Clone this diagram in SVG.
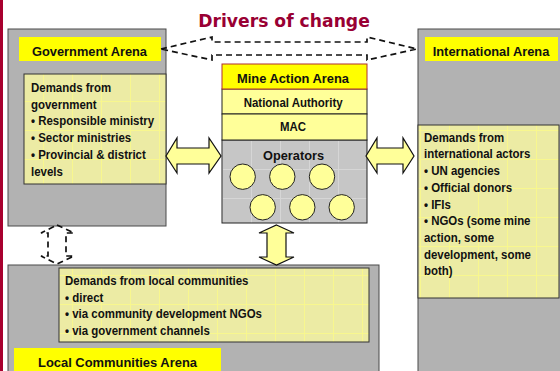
<svg xmlns="http://www.w3.org/2000/svg" width="560" height="371" viewBox="0 0 560 371">
<style>
  .arena{fill:#B2B2B2;stroke:#4a4a4a;stroke-width:1}
  .lab{fill:#FFFF00}
  .dem{fill:url(#ytex);stroke:#333;stroke-width:1}
  .lt{font-family:"Liberation Sans",Arial,sans-serif;font-weight:bold;font-size:13.3px;fill:#111}
  .bt{font-family:"Liberation Sans",Arial,sans-serif;font-weight:bold;font-size:12.2px;fill:#111}
  .circ{fill:#FFFF99;stroke:#222;stroke-width:1}
  .arr{fill:#FFFF99;stroke:#111;stroke-width:1.2;stroke-linejoin:miter}
  .dash{fill:none;stroke:#111;stroke-width:1.7;stroke-dasharray:6 4}
</style>
<defs>
  <pattern id="ytex" patternUnits="userSpaceOnUse" width="29" height="29">
    <rect width="29" height="29" fill="#ECEBA4"/>
    <path d="M14.5 0V29M0 14.5H29" stroke="#F8F78E" stroke-width="1"/>
  </pattern>
  <pattern id="gtex" patternUnits="userSpaceOnUse" width="29" height="29" x="222" y="140">
    <rect width="29" height="29" fill="#C6C6C6"/>
    <path d="M0.5 0V29M0 0.5H29" stroke="#D6D6D6" stroke-width="1"/>
  </pattern>
</defs>
<rect x="0" y="0" width="560" height="371" fill="#FFFFFF"/>
<rect x="0" y="0" width="3" height="371" fill="#A8002E"/>
<g id="title">
  <text x="284" y="27" text-anchor="middle" font-family="'DejaVu Sans',Verdana,sans-serif" font-weight="bold" font-size="17.2px" fill="#990033">Drivers of change</text>
</g>
<g id="local-arena">
  <rect class="arena" x="8" y="265" width="371" height="112"/>
  <rect class="dem" x="59" y="268" width="310" height="74"/>
  <text class="bt" x="65" y="285" textLength="183.4" lengthAdjust="spacingAndGlyphs">Demands from local communities</text>
  <text class="bt" x="65" y="301.7" textLength="38.4" lengthAdjust="spacingAndGlyphs">• direct</text>
  <text class="bt" x="65" y="318.4" textLength="197" lengthAdjust="spacingAndGlyphs">• via community development NGOs</text>
  <text class="bt" x="65" y="335.1" textLength="144.8" lengthAdjust="spacingAndGlyphs">• via government channels</text>
  <rect class="lab" x="14" y="348" width="207" height="30"/>
  <text class="lt" x="38" y="366.7" textLength="159" lengthAdjust="spacingAndGlyphs">Local Communities Arena</text>
</g>
<g id="government-arena">
  <rect class="arena" x="8" y="29" width="158" height="197"/>
  <rect class="lab" x="19" y="37" width="142" height="24"/>
  <text class="lt" x="32" y="55.5" textLength="115" lengthAdjust="spacingAndGlyphs">Government Arena</text>
  <rect class="dem" x="24" y="74" width="142" height="110"/>
  <text class="bt" x="31" y="92" textLength="80.2" lengthAdjust="spacingAndGlyphs">Demands from</text>
  <text class="bt" x="31" y="108.7" textLength="65.6" lengthAdjust="spacingAndGlyphs">government</text>
  <text class="bt" x="31" y="125.4" textLength="123.1" lengthAdjust="spacingAndGlyphs">• Responsible ministry</text>
  <text class="bt" x="31" y="142.1" textLength="100.2" lengthAdjust="spacingAndGlyphs">• Sector ministries</text>
  <text class="bt" x="31" y="158.8" textLength="114.8" lengthAdjust="spacingAndGlyphs">• Provincial &amp; district</text>
  <text class="bt" x="31" y="175.5" textLength="31.9" lengthAdjust="spacingAndGlyphs">levels</text>
</g>
<g id="international-arena">
  <rect class="arena" x="418" y="29" width="150" height="350"/>
  <rect class="lab" x="425" y="37" width="133" height="24"/>
  <text class="lt" x="432.7" y="55.5" textLength="116.7" lengthAdjust="spacingAndGlyphs">International Arena</text>
  <rect class="dem" x="418" y="125" width="141" height="173"/>
  <text class="bt" x="424" y="141.7" textLength="80.2" lengthAdjust="spacingAndGlyphs">Demands from</text>
  <text class="bt" x="424" y="158.4" textLength="106.3" lengthAdjust="spacingAndGlyphs">international actors</text>
  <text class="bt" x="424" y="175.1" textLength="76" lengthAdjust="spacingAndGlyphs">• UN agencies</text>
  <text class="bt" x="424" y="191.8" textLength="88.1" lengthAdjust="spacingAndGlyphs">• Official donors</text>
  <text class="bt" x="424" y="208.5" textLength="26.9" lengthAdjust="spacingAndGlyphs">• IFIs</text>
  <text class="bt" x="424" y="225.2" textLength="106.5" lengthAdjust="spacingAndGlyphs">• NGOs (some mine</text>
  <text class="bt" x="424" y="241.9" textLength="70" lengthAdjust="spacingAndGlyphs">action, some</text>
  <text class="bt" x="424" y="258.6" textLength="107" lengthAdjust="spacingAndGlyphs">development, some</text>
  <text class="bt" x="424" y="275.3" textLength="28.6" lengthAdjust="spacingAndGlyphs">both)</text>
</g>
<g id="mine-action-arena">
  <rect x="222" y="140" width="145" height="83" fill="url(#gtex)" stroke="#222" stroke-width="1"/>
  <rect x="222" y="89" width="145" height="25" fill="#FFFF99" stroke="#222" stroke-width="1"/>
  <rect x="222" y="114" width="145" height="26" fill="#FFFF99" stroke="#222" stroke-width="1"/>
  <rect x="222" y="64" width="145" height="25" fill="#FFFF00" stroke="#B03030" stroke-width="1"/>
  <text class="lt" x="237" y="83.3" textLength="112" lengthAdjust="spacingAndGlyphs">Mine Action Arena</text>
  <text class="bt" x="243.7" y="106.7" textLength="99" lengthAdjust="spacingAndGlyphs">National Authority</text>
  <text class="bt" x="280" y="131" textLength="26" lengthAdjust="spacingAndGlyphs">MAC</text>
  <text class="lt" x="263" y="160.3" textLength="61" lengthAdjust="spacingAndGlyphs">Operators</text>
  <circle class="circ" cx="242.7" cy="176.7" r="12.7"/>
  <circle class="circ" cx="282.3" cy="176.7" r="12.7"/>
  <circle class="circ" cx="322" cy="176.7" r="12.7"/>
  <circle class="circ" cx="262.7" cy="207.3" r="12.7"/>
  <circle class="circ" cx="302.3" cy="207.3" r="12.7"/>
  <circle class="circ" cx="341.7" cy="207.3" r="12.7"/>
</g>
<g id="connectors">
  <polygon class="arr" points="166,156 177,138 177,148 209,148 209,138 221,156 209,173 209,164 177,164 177,173"/>
  <polygon class="arr" points="366,156 377,138 377,148 403,148 403,138 414,156 403,173 403,164 377,164 377,173"/>
  <polygon class="arr" points="276.5,225 294,233 286,233 286,257 294,257 276.5,265 259,257 267,257 267,233 259,233"/>
  <polygon class="dash" points="161,49 212,37 212,42 367,42 367,37 417,49 367,60 367,55 212,55 212,60"/>
  <polygon class="dash" points="57,225 74,233 66,233 66,256 74,256 57,264 41,256 48,256 48,233 41,233"/>
</g>
</svg>
